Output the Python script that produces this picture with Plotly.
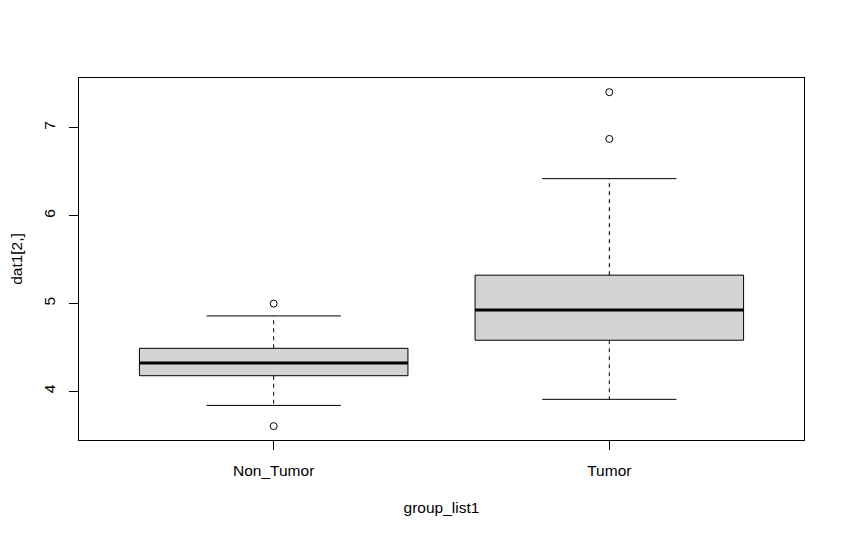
import plotly.graph_objects as go

groups = ["Non_Tumor", "Tumor"]
positions = [1, 2]
q1 = [4.178, 4.582]
median = [4.323, 4.927]
q3 = [4.490, 5.323]
lower_whisker = [3.840, 3.909]
upper_whisker = [4.859, 6.422]
outliers = [[4.999, 3.604], [7.406, 6.874]]

y_ticks = [4, 5, 6, 7]

BOX_HALF = 0.4
CAP_HALF = 0.2

fig = go.Figure()
for i, c in enumerate(positions):
    # box
    fig.add_trace(go.Scatter(
        x=[c - BOX_HALF, c + BOX_HALF, c + BOX_HALF, c - BOX_HALF, c - BOX_HALF],
        y=[q1[i], q1[i], q3[i], q3[i], q1[i]],
        mode="lines", fill="toself", fillcolor="#D3D3D3",
        line=dict(color="black", width=1), showlegend=False, hoverinfo="skip"))
    # whiskers
    for a, b in [(q3[i], upper_whisker[i]), (q1[i], lower_whisker[i])]:
        fig.add_trace(go.Scatter(
            x=[c, c], y=[a, b], mode="lines",
            line=dict(color="black", width=1, dash="4px,4px"),
            showlegend=False, hoverinfo="skip"))
    # caps
    for v in [upper_whisker[i], lower_whisker[i]]:
        fig.add_trace(go.Scatter(
            x=[c - CAP_HALF, c + CAP_HALF], y=[v, v], mode="lines",
            line=dict(color="black", width=1), showlegend=False, hoverinfo="skip"))
    # median
    fig.add_trace(go.Scatter(
        x=[c - BOX_HALF, c + BOX_HALF], y=[median[i], median[i]], mode="lines",
        line=dict(color="black", width=3), showlegend=False, hoverinfo="skip"))
    # outliers
    fig.add_trace(go.Scatter(
        x=[c] * len(outliers[i]), y=outliers[i], mode="markers",
        marker=dict(symbol="circle-open", size=7, color="black", line=dict(width=1)),
        showlegend=False))

font = dict(family="Liberation Sans, Arial, sans-serif", size=15.5, color="black")

fig.update_layout(
    width=844, height=538,
    margin=dict(l=71, r=48, t=70, b=106),
    paper_bgcolor="white", plot_bgcolor="white",
    font=font,
    xaxis=dict(
        range=[0.42, 2.58], tickvals=positions, ticktext=groups,
        automargin=False, ticklabelstandoff=7,
        showline=True, mirror=True, linecolor="black", linewidth=1,
        ticks="outside", ticklen=9, tickcolor="black", showgrid=False, zeroline=False,
        title=dict(text="group_list1", font=font, standoff=24)),
    yaxis=dict(
        range=[3.446, 7.568], tickvals=y_ticks, ticktext=[str(t) for t in y_ticks],
        tickangle=-90, automargin=False, ticklabelstandoff=8,
        showline=True, mirror=True, linecolor="black", linewidth=1,
        ticks="outside", ticklen=9, tickcolor="black", showgrid=False, zeroline=False,
        title=dict(text="dat1[2,]", font=font, standoff=18)),
)

fig.write_html("out.html")
